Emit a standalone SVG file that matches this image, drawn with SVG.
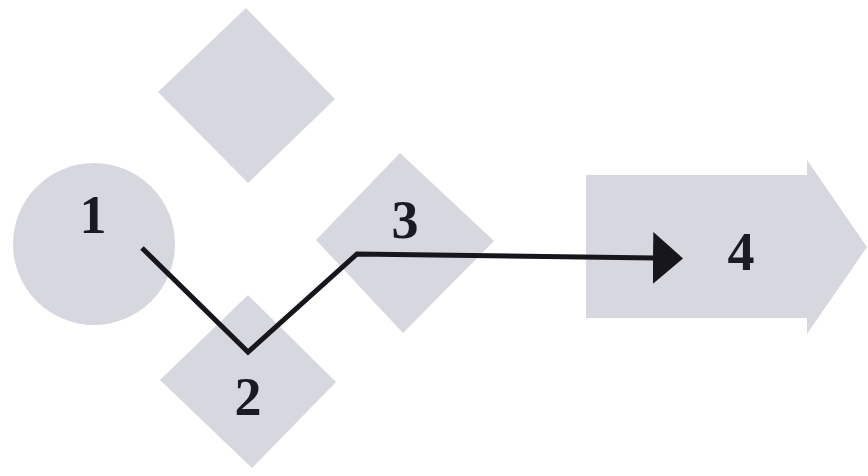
<svg xmlns="http://www.w3.org/2000/svg" width="868" height="476" viewBox="0 0 868 476">
  <style>
    .shape { fill: #d7d7df; }
    .label { font-family: "Liberation Serif", "Times New Roman", serif; font-weight: bold; font-size: 54px; fill: #1a1a22; text-anchor: middle; }
    .link { fill: none; stroke: #16161c; stroke-width: 5; stroke-linejoin: miter; }
  </style>
  <defs>
    <marker id="head" markerUnits="userSpaceOnUse" markerWidth="30" markerHeight="52" refX="2" refY="26" orient="auto">
      <path d="M0,0 L30,26 L0,52 Z" fill="#16161c"/>
    </marker>
  </defs>
  <rect width="868" height="476" fill="#ffffff"/>

  <g id="node-top">
    <polygon class="shape" points="246,8 335,99 248,183 158,92"/>
  </g>

  <g id="node-1">
    <circle class="shape" cx="94" cy="244" r="81"/>
    <text class="label" x="93" y="233">1</text>
  </g>

  <g id="node-2">
    <polygon class="shape" points="248,295 336,382 252,468 160,380"/>
    <text class="label" x="248" y="415">2</text>
  </g>

  <g id="node-3">
    <polygon class="shape" points="400,153 494,241 403,333 316,240"/>
    <text class="label" x="405" y="238">3</text>
  </g>

  <g id="node-4">
    <polygon class="shape" points="586,175 807,175 807,160 867,247 807,334 807,318 586,318"/>
    <text class="label" x="741" y="270">4</text>
  </g>

  <g id="connectors">
    <polyline class="link" points="142,248 248,352 357,254 655,258" marker-end="url(#head)"/>
  </g>
</svg>
